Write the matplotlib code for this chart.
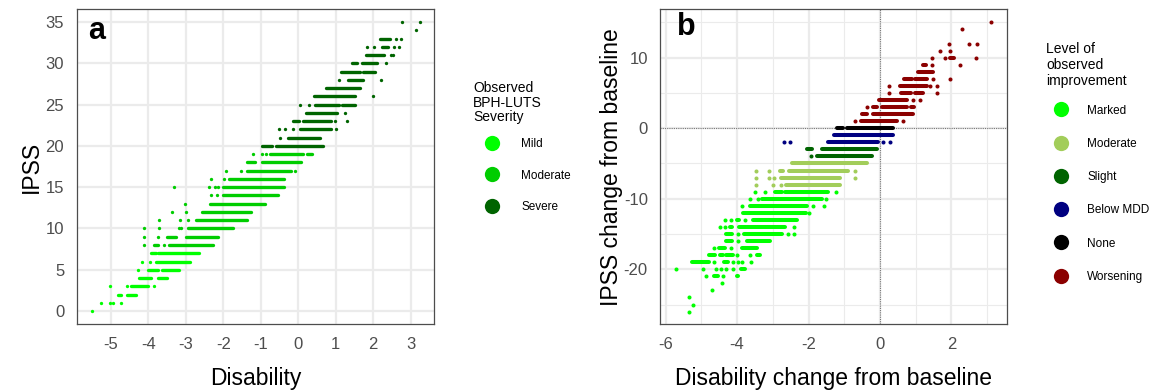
import matplotlib
matplotlib.use("Agg")
import matplotlib.pyplot as plt
from matplotlib.lines import Line2D
from matplotlib.ticker import MultipleLocator

plt.rcParams['font.family'] = ['Liberation Sans', 'DejaVu Sans']
plt.rcParams['axes.unicode_minus'] = False

# panel a: each row is (IPSS, items); an item is one dot (x) or a run of
# overlapping dots given as (x_start, x_end)
mild_rows = [
    (0, [-5.50]),
    (1, [-5.26, -5.01, -4.95, -4.74]),
    (2, [(-4.80, -4.74), (-4.56, -4.32)]),
    (3, [-5.01, -4.58, (-4.45, -4.02), -3.86]),
    (4, [(-4.25, -3.92), (-3.73, -3.51)]),
    (5, [-4.27, (-4.00, -3.75), (-3.64, -3.19)]),
    (6, [-4.17, -3.96, (-3.80, -2.90)]),
    (7, [(-3.94, -3.80), (-3.74, -2.66)]),
]
moderate_rows = [
    (8, [-4.11, (-3.85, -3.74), -3.58, (-3.44, -2.28)]),
    (9, [-4.12, -3.74, (-3.49, -3.26), (-2.99, -2.14)]),
    (10, [-4.12, -3.71, -3.19, -3.13, (-2.95, -1.74)]),
    (11, [-3.71, -3.16, -2.95, (-2.72, -1.36)]),
    (12, [-3.38, -2.99, (-2.58, -1.26)]),
    (13, [-3.02, (-2.35, -0.89)]),
    (14, [-2.34, -2.16, (-2.01, -0.55)]),
    (15, [-3.32, -2.38, -2.22, -2.13, (-2.01, -0.38)]),
    (16, [-2.32, -1.99, (-1.85, -0.38)]),
    (17, [-1.93, -1.54, (-1.36, -0.20), -0.09]),
    (18, [(-1.38, -1.16), (-0.96, 0.07)]),
    (19, [-1.20, -0.96, -0.87, (-0.76, 0.14), (0.23, 0.37)]),
]
severe_rows = [
    (20, [(-0.96, -0.69), (-0.60, 0.65)]),
    (21, [-0.48, (-0.26, 0.59)]),
    (22, [-0.51, -0.35, -0.14, (0.05, 0.88), 1.01]),
    (23, [(-0.13, 0.03), (0.12, 0.88), 0.97, 1.31]),
    (24, [(0.21, 1.04), 1.24]),
    (25, [0.05, 0.29, (0.45, 1.10), (1.17, 1.51)]),
    (26, [(0.43, 1.51), 2.00]),
    (27, [(0.74, 1.65)]),
    (28, [1.08, (1.33, 1.73), 2.20]),
    (29, [(1.15, 1.64), (1.73, 2.04)]),
    (30, [(1.43, 1.58), (1.69, 2.11), 2.34]),
    (31, [(1.81, 2.29), 2.47, 2.54]),
    (32, [1.84, 2.03, (2.24, 2.40), 2.55, 2.69]),
    (33, [(2.17, 2.45), 2.60, 2.75]),
    (34, [3.13]),
    (35, [2.78, 3.26]),
]

# panel b: (IPSS change, items)
marked_rows = [
    (-26, [-5.35]),
    (-25, [-5.23]),
    (-24, [-5.34]),
    (-23, [-4.70]),
    (-22, [-4.42]),
    (-21, [-4.86, (-4.65, -4.53), -4.39, (-4.01, -3.97)]),
    (-20, [-5.72, -4.95, -4.58, -4.44, -4.30, -4.11, (-3.89, -3.78)]),
    (-19, [(-5.25, -4.78), -4.65, (-4.37, -4.25), -4.11, -3.97, -3.85, -3.61]),
    (-18, [(-4.79, -4.62), (-4.48, -4.39), (-4.30, -4.11), -3.99, -3.64, (-3.45, -3.36)]),
    (-17, [-4.65, (-4.50, -4.34), -4.18, (-3.85, -3.45)]),
    (-16, [(-4.31, -4.15), -3.97, (-3.73, -3.08)]),
    (-15, [(-4.31, -4.13), -3.97, (-3.80, -2.75), -2.57, -2.41]),
    (-14, [-4.48, -4.34, (-4.20, -4.13), (-3.94, -2.66), -2.41]),
    (-13, [-4.34, -4.18, (-4.00, -3.94), -3.78, (-3.55, -2.33)]),
    (-12, [(-3.83, -2.08), -1.99]),
    (-11, [-3.87, (-3.64, -2.05), -1.87, -1.57]),
    (-10, [-3.64, -3.41, (-3.31, -1.62), -1.50]),
    (-9, [-3.50, -3.22, (-2.94, -2.75), (-2.66, -1.45), -1.24]),
]
moderate_b_rows = [
    (-8, [-3.47, -2.99, -2.77, (-2.63, -1.12)]),
    (-7, [-3.47, -3.11, -2.97, (-2.77, -1.12), -0.70]),
    (-6, [-3.47, -3.10, (-2.80, -2.71), (-2.54, -0.89), -0.70]),
    (-5, [(-2.47, -0.37)]),
]
slight_rows = [
    (-4, [-1.92, (-1.75, -0.23)]),
    (-3, [(-2.05, -1.91), (-1.63, -0.09)]),
]
below_mdd_rows = [
    (-2, [-2.68, -2.52, (-1.45, -0.04), 0.09, 0.27]),
    (-1, [(-1.30, 0.38)]),
]
none_rows = [
    (0, [(-1.19, -1.03), (-0.92, 0.37)]),
]
worsening_rows = [
    (1, [-0.71, (-0.53, 0.49), 0.65]),
    (2, [(-0.50, -0.35), (-0.19, 0.93)]),
    (3, [-0.35, (-0.19, -0.07), (0.05, 0.77), (0.86, 0.95)]),
    (4, [(-0.02, 0.77), 0.93, 1.13]),
    (5, [0.25, (0.59, 0.86), (0.98, 1.21), 1.60]),
    (6, [0.25, (0.56, 1.31), 1.40, 1.60]),
    (7, [(0.68, 0.89), (0.98, 1.31), 1.48, 1.97]),
    (8, [(1.07, 1.50)]),
    (9, [(1.21, 1.29), 1.47, 2.25]),
    (10, [1.47, 1.81, (1.97, 2.07), 2.69]),
    (11, [1.67, 1.97]),
    (12, [1.93, 2.50, 2.72]),
    (14, [2.30]),
    (15, [3.12]),
]

sev_labels = ['Mild', 'Moderate', 'Severe']
sev_colors = ['#00ff00', '#00cd00', '#006400']
imp_labels = ['Marked', 'Moderate', 'Slight', 'Below MDD', 'None', 'Worsening']
imp_colors = ['#00ff00', '#a2cd5a', '#006400', '#000080', '#000000', '#8b0000']


def draw_rows(ax, rows, color, ms):
    for y, items in rows:
        for it in items:
            if isinstance(it, tuple):
                ax.plot(it, [y, y], color=color, lw=ms, solid_capstyle='round', zorder=3)
            else:
                ax.plot([it], [y], 'o', color=color, ms=ms, mec='none', zorder=3)


def style(ax):
    for s in ax.spines.values():
        s.set_color('#4d4d4d')
        s.set_linewidth(0.9)
    ax.tick_params(which='both', length=0, labelsize=12, labelcolor='#4d4d4d', pad=9)
    ax.grid(True, which='major', color='#ebebeb', lw=1.6)
    ax.set_axisbelow(True)


W, H = 1153, 390
fig = plt.figure(figsize=(W / 100, H / 100), dpi=100)

# panel a
ax1 = fig.add_axes([76.7 / W, 1 - 324.3 / H, 357.6 / W, 315.3 / H])
style(ax1)
for rows, c in zip([mild_rows, moderate_rows, severe_rows], sev_colors):
    draw_rows(ax1, rows, c, 2.4)
ax1.set_xlim(-5.91, 3.63)
ax1.set_ylim(-1.61, 36.6)
ax1.xaxis.set_major_locator(MultipleLocator(1))
ax1.yaxis.set_major_locator(MultipleLocator(5))
ax1.set_xlabel('Disability', fontsize=16.5, labelpad=11)
ax1.set_ylabel('IPSS', fontsize=16.5, labelpad=2)
ax1.text(0.057, 0.93, 'a', transform=ax1.transAxes, fontsize=22, fontweight='bold',
         ha='center', va='center')

# panel b
ax2 = fig.add_axes([660.3 / W, 1 - 324.3 / H, 346.4 / W, 315.3 / H])
style(ax2)
ax2.grid(True, which='minor', color='#ebebeb', lw=0.8)
ax2.axhline(0, color='#777777', lw=0.8, ls=(0, (1, 1)), zorder=2)
ax2.axvline(0, color='#777777', lw=0.8, ls=(0, (1, 1)), zorder=2)
b_groups = [marked_rows, moderate_b_rows, slight_rows, below_mdd_rows, none_rows, worsening_rows]
for rows, c in zip(b_groups, imp_colors):
    draw_rows(ax2, rows, c, 2.9)
ax2.set_xlim(-6.15, 3.55)
ax2.set_ylim(-27.8, 16.9)
ax2.xaxis.set_major_locator(MultipleLocator(2))
ax2.xaxis.set_minor_locator(MultipleLocator(1))
ax2.yaxis.set_major_locator(MultipleLocator(10))
ax2.yaxis.set_minor_locator(MultipleLocator(5))
ax2.set_xlabel('Disability change from baseline', fontsize=16.5, labelpad=11)
ax2.set_ylabel('IPSS change from baseline', fontsize=16.5, labelpad=0.5)
ax2.text(0.076, 0.943, 'b', transform=ax2.transAxes, fontsize=22, fontweight='bold',
         ha='center', va='center')

# legends
h1 = [Line2D([], [], marker='o', ls='none', color=c, ms=11, mec='none') for c in sev_colors]
leg1 = fig.legend(h1, sev_labels, title='Observed\nBPH-LUTS\nSeverity', loc='upper left',
                  bbox_to_anchor=(473 / W, 1 - 81 / H), frameon=False, borderpad=0,
                  borderaxespad=0, handlelength=3.2, handletextpad=0.9, labelspacing=1.63,
                  fontsize=8.5, title_fontsize=10, alignment='left')
leg1.get_title().set_multialignment('left')
leg1.get_title().set_linespacing(1.05)
leg1._legend_box.sep = 10.2

h2 = [Line2D([], [], marker='o', ls='none', color=c, ms=11, mec='none') for c in imp_colors]
leg2 = fig.legend(h2, imp_labels, title='Level of\nobserved\nimprovement', loc='upper left',
                  bbox_to_anchor=(1046 / W, 1 - 42 / H), frameon=False, borderpad=0,
                  borderaxespad=0, handlelength=2.55, handletextpad=0.95, labelspacing=1.8,
                  fontsize=8.5, title_fontsize=10, alignment='left')
leg2.get_title().set_multialignment('left')
leg2._legend_box.sep = 11.6

fig.savefig('out.png', dpi=100)
